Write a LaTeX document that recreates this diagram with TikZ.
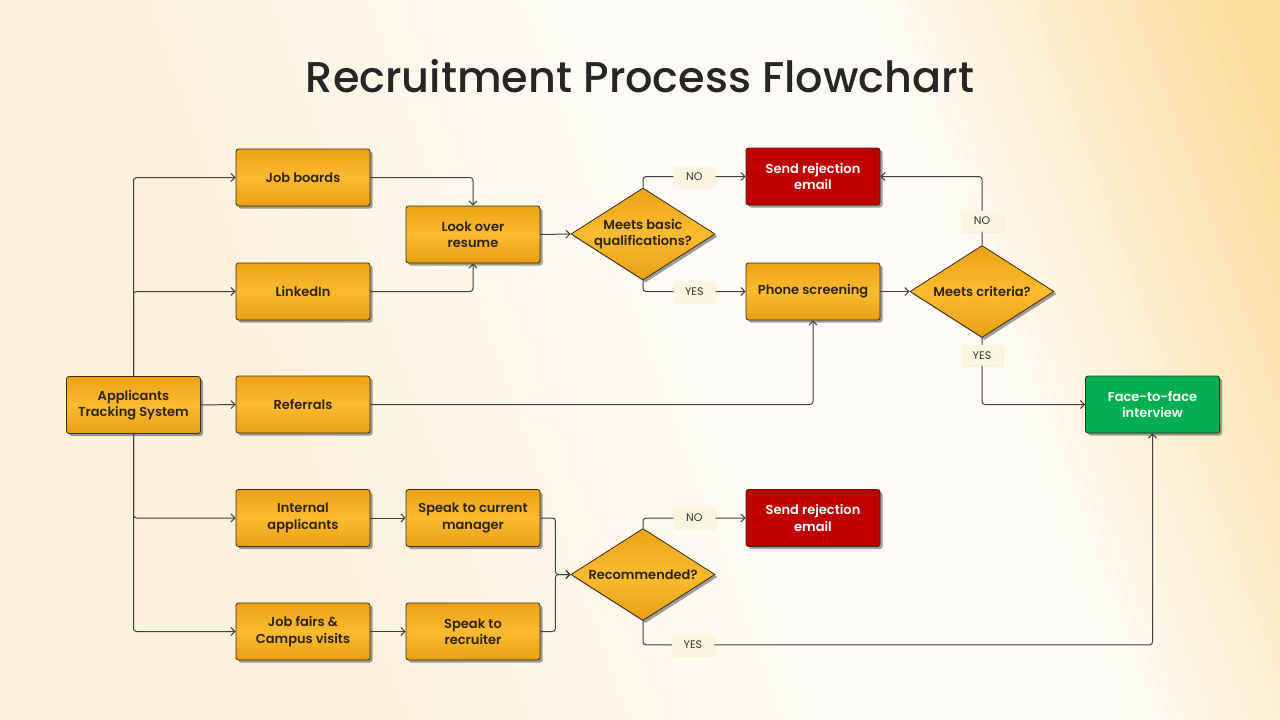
\documentclass[tikz,border=0pt]{standalone}
\usepackage{fontspec}
\setmainfont{Poppins}[BoldFont={Poppins SemiBold}]
\newfontfamily\titlefont{Poppins Medium}
\usetikzlibrary{shapes.geometric,arrows.meta,shadows,calc}
\definecolor{bgL}{HTML}{FCF1DC}
\definecolor{bgM}{HTML}{FFFCF7}
\definecolor{bgR}{HTML}{FBD993}
\definecolor{ortop}{HTML}{EDA214}
\definecolor{ormid}{HTML}{FCBB30}
\definecolor{orbot}{HTML}{E8A013}
\definecolor{boxline}{HTML}{3B2C0E}
\definecolor{txt}{HTML}{2E240C}
\definecolor{redbox}{HTML}{C00000}
\definecolor{greenbox}{HTML}{00B050}
\definecolor{lnc}{HTML}{404040}
\definecolor{lblbg}{HTML}{FDF4E2}
\definecolor{titlec}{HTML}{262626}
\begin{document}
\begin{tikzpicture}[x=1pt,y=-1pt,
  shadowed/.style={drop shadow={shadow xshift=2.5pt,shadow yshift=-2.5pt,opacity=0.5,fill=black!75}},
  box/.style={rectangle,rounded corners=2.5pt,draw=boxline,line width=0.8pt,
    top color=ortop,bottom color=orbot,middle color=ormid,
    minimum width=134pt,minimum height=57pt,align=center,inner sep=2pt,
    font=\bfseries\fontsize{13}{16.5}\selectfont,text=txt,shadowed},
  redb/.style={box,fill=redbox,top color=redbox,bottom color=redbox,middle color=redbox,text=white},
  greenb/.style={box,fill=greenbox,top color=greenbox,bottom color=greenbox,middle color=greenbox,text=white},
  dec/.style={diamond,draw=boxline,line width=0.8pt,
    top color=ortop,bottom color=orbot,middle color=ormid,
    minimum width=144pt,minimum height=92pt,inner sep=0pt,shadowed},
  dectext/.style={font=\bfseries\fontsize{13}{16.5}\selectfont,text=txt,align=center},
  conn/.style={draw=lnc,line width=1pt,rounded corners=3pt,-{Straight Barb[length=4pt,width=8pt]}},
  lbl/.style={fill=lblbg,rounded corners=2pt,minimum width=42pt,minimum height=21pt,inner sep=2pt,
    font=\fontsize{11}{12}\selectfont,text=black!80,
    drop shadow={shadow xshift=1pt,shadow yshift=-1.5pt,opacity=0.25,fill=orange!40}},
]
\useasboundingbox (0,0) rectangle (1280,720);
% background: diagonal gradient, cream on the left, white centre, orange top right
\begin{scope}
\clip (0,0) rectangle (1280,720);
\begin{scope}[shift={(0,720)},rotate=20]
\fill[bgL] (-800,-2000) rectangle (351,2000);
\foreach \i in {0,...,29}{
  \pgfmathsetmacro\a{350+15*\i}
  \pgfmathsetmacro\pc{100-100*(\i+0.5)/30}
  \fill[bgL!\pc!bgM] (\a,-2000) rectangle ({\a+16},2000);
}
\fill[bgM] (800,-2000) rectangle (1061,2000);
\foreach \i in {0,...,29}{
  \pgfmathsetmacro\a{1060+13*\i}
  \pgfmathsetmacro\pc{100*(\i+0.5)/30}
  \fill[bgR!\pc!bgM] (\a,-2000) rectangle ({\a+14},2000);
}
\fill[bgR] (1449,-2000) rectangle (2600,2000);
\end{scope}
\end{scope}

\node[text=titlec,font=\titlefont\fontsize{43}{46}\selectfont] (title) at (640,76) {Recruitment Process Flowchart};

% nodes
\node[box] (ats) at (133.5,405) {Applicants\\Tracking System};
\node[box] (jb)  at (303,177.5) {Job boards};
\node[box] (li)  at (303,291.5) {LinkedIn};
\node[box] (ref) at (303,404.5) {Referrals};
\node[box] (ia)  at (303,518) {Internal\\applicants};
\node[box] (jf)  at (303,631.5) {Job fairs \&\\Campus visits};
\node[box] (lo)  at (473,234.5) {Look over\\resume};
\node[box] (scm) at (473,518) {Speak to current\\manager};
\node[box] (sr)  at (473,631.5) {Speak to\\recruiter};
\node[dec,label={[dectext]center:Meets basic\\qualifications?}] (d1)  at (643,234) {};
\node[dec,label={[dectext]center:Recommended?}] (d3)  at (643,574.5) {};
\node[redb] (rej1) at (813,176.5) {Send rejection\\email};
\node[box] (ps)  at (813,291.5) {Phone screening};
\node[redb] (rej2) at (813,518) {Send rejection\\email};
\node[dec,label={[dectext]center:Meets criteria?}] (d2)  at (982,291.5) {};
\node[greenb] (f2f) at (1152.5,404.5) {Face-to-face\\interview};

% connectors
\draw[conn] (ats.north) |- (jb.west);
\draw[conn] (ats.north) |- (li.west);
\draw[conn] (ats.east) -- (ref.west);
\draw[conn] (ats.south) |- (ia.west);
\draw[conn] (ats.south) |- (jf.west);
\draw[conn] (jb.east) -| (lo.north);
\draw[conn] (li.east) -| (lo.south);
\draw[conn] (lo.east) -- (d1.west);
\draw[conn] (d1.north) |- node[lbl,pos=0.75] {NO} (rej1.west);
\draw[conn] (d1.south) |- node[lbl,pos=0.75] {YES} (ps.west);
\draw[conn] (ref.east) -| (ps.south);
\draw[conn] (ps.east) -- (d2.west);
\draw[conn] (d2.north) |- node[lbl,pos=0.175] {NO} (rej1.east);
\draw[conn] (d2.south) |- node[lbl,pos=0.13] {YES} (f2f.west);
\draw[conn] (ia.east) -- (scm.west);
\draw[conn] (jf.east) -- (sr.west);
\draw[conn] (scm.east) -- ++(15,0) |- (d3.west);
\draw[conn] (sr.east) -- ++(15,0) |- (d3.west);
\draw[conn] (d3.north) |- node[lbl,pos=0.75] {NO} (rej2.west);
\draw[conn] (d3.south) -- ++(0,24) -| node[lbl,pos=0.049] {YES} (f2f.south);
\end{tikzpicture}
\end{document}
